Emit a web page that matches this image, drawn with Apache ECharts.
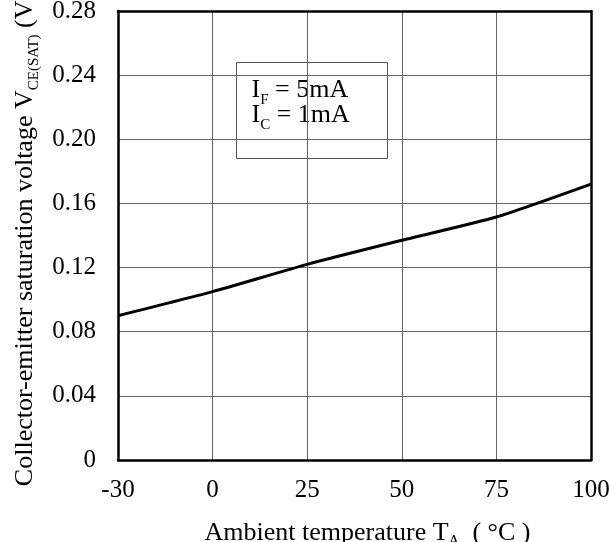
<!DOCTYPE html>
<html>
<head>
<meta charset="utf-8">
<script src="https://cdn.jsdelivr.net/npm/echarts@6/dist/echarts.min.js"></script>
<style>
  html, body { margin: 0; padding: 0; background: #fff; }
  #chart { width: 611px; height: 542px; }
</style>
</head>
<body>
<div id="chart"></div>
<script>
const temperatures = ['-30', '0', '25', '50', '75', '100'];
const vceSat = [0.090, 0.105, 0.122, 0.137, 0.1515, 0.172];
const yMin = 0;
const yMax = 0.28;
const yStep = 0.04;
const conditionLines = ['I{sub|F} = 5mA', 'I{sub|C} = 1mA'];

const serif = "'Liberation Serif', 'Times New Roman', serif";
// subscript: small text pushed under the baseline
const sub = { fontFamily: serif, fontSize: 15, lineHeight: 1, verticalAlign: 'top', padding: [15, 0, 0, 0] };

const chart = echarts.init(document.getElementById('chart'));

const option = {
  backgroundColor: '#fff',
  animation: false,
  grid: { left: 118, right: 20, top: 11, bottom: 82, outerBoundsMode: 'none' },
  xAxis: [
    {
      type: 'category',
      data: temperatures,
      boundaryGap: false,
      axisLine: { lineStyle: { color: '#000', width: 2.5 } },
      axisTick: { show: false },
      axisLabel: {
        color: '#000',
        fontFamily: serif,
        fontSize: 25,
        margin: 18,
        interval: 0,
      },
      splitLine: {
        show: true,
        interval: 0,
        showMinLine: false,
        showMaxLine: false,
        lineStyle: { color: '#666', width: 1 },
      },
      name: 'Ambient temperature T{sub|A}  ( °C )',
      nameLocation: 'middle',
      nameGap: 59,
      nameTextStyle: {
        color: '#000',
        fontFamily: serif,
        fontSize: 26,
        lineHeight: 28,
        padding: [0, 0, 0, 26],
        rich: { sub },
      },
    },
    {
      type: 'category',
      data: temperatures,
      position: 'top',
      boundaryGap: false,
      axisLine: { onZero: false, lineStyle: { color: '#000', width: 2.5 } },
      axisTick: { show: false },
      axisLabel: { show: false },
    },
  ],
  yAxis: [
    {
      type: 'value',
      min: yMin,
      max: yMax,
      interval: yStep,
      axisLine: { show: true, lineStyle: { color: '#000', width: 2.5 } },
      axisTick: { show: false },
      axisLabel: {
        color: '#000',
        fontFamily: serif,
        fontSize: 25,
        margin: 22,
        formatter: (v) => (v === 0 ? '0' : v.toFixed(2)),
      },
      splitLine: {
        show: true,
        showMinLine: false,
        showMaxLine: false,
        lineStyle: { color: '#666', width: 1 },
      },
      name: 'Collector-emitter saturation voltage V{sub|CE(SAT)} (V)',
      nameLocation: 'middle',
      nameRotate: 90,
      nameGap: 78,
      nameTextStyle: {
        color: '#000',
        fontFamily: serif,
        fontSize: 26,
        lineHeight: 28,
        padding: [0, 7, 0, 0],
        rich: { sub },
      },
    },
    {
      type: 'value',
      min: yMin,
      max: yMax,
      interval: yStep,
      position: 'right',
      axisLine: { show: true, onZero: false, lineStyle: { color: '#000', width: 2.5 } },
      axisTick: { show: false },
      axisLabel: { show: false },
      splitLine: { show: false },
    },
  ],
  series: [
    {
      type: 'line',
      data: vceSat,
      smooth: 0.2,
      symbol: 'none',
      lineStyle: { color: '#000', width: 3 },
      clip: false,
    },
  ],
  graphic: [
    {
      type: 'group',
      left: 236,
      top: 62,
      children: [
        {
          type: 'rect',
          shape: { x: 0, y: 0, width: 151, height: 96 },
          style: { fill: '#fff', stroke: '#555', lineWidth: 1 },
        },
        {
          type: 'text',
          x: 15,
          y: 15,
          style: {
            text: conditionLines.join('\n'),
            fill: '#000',
            font: '26px ' + serif,
            lineHeight: 25,
            rich: { sub },
          },
        },
      ],
    },
  ],
};

chart.setOption(option);
</script>
</body>
</html>
